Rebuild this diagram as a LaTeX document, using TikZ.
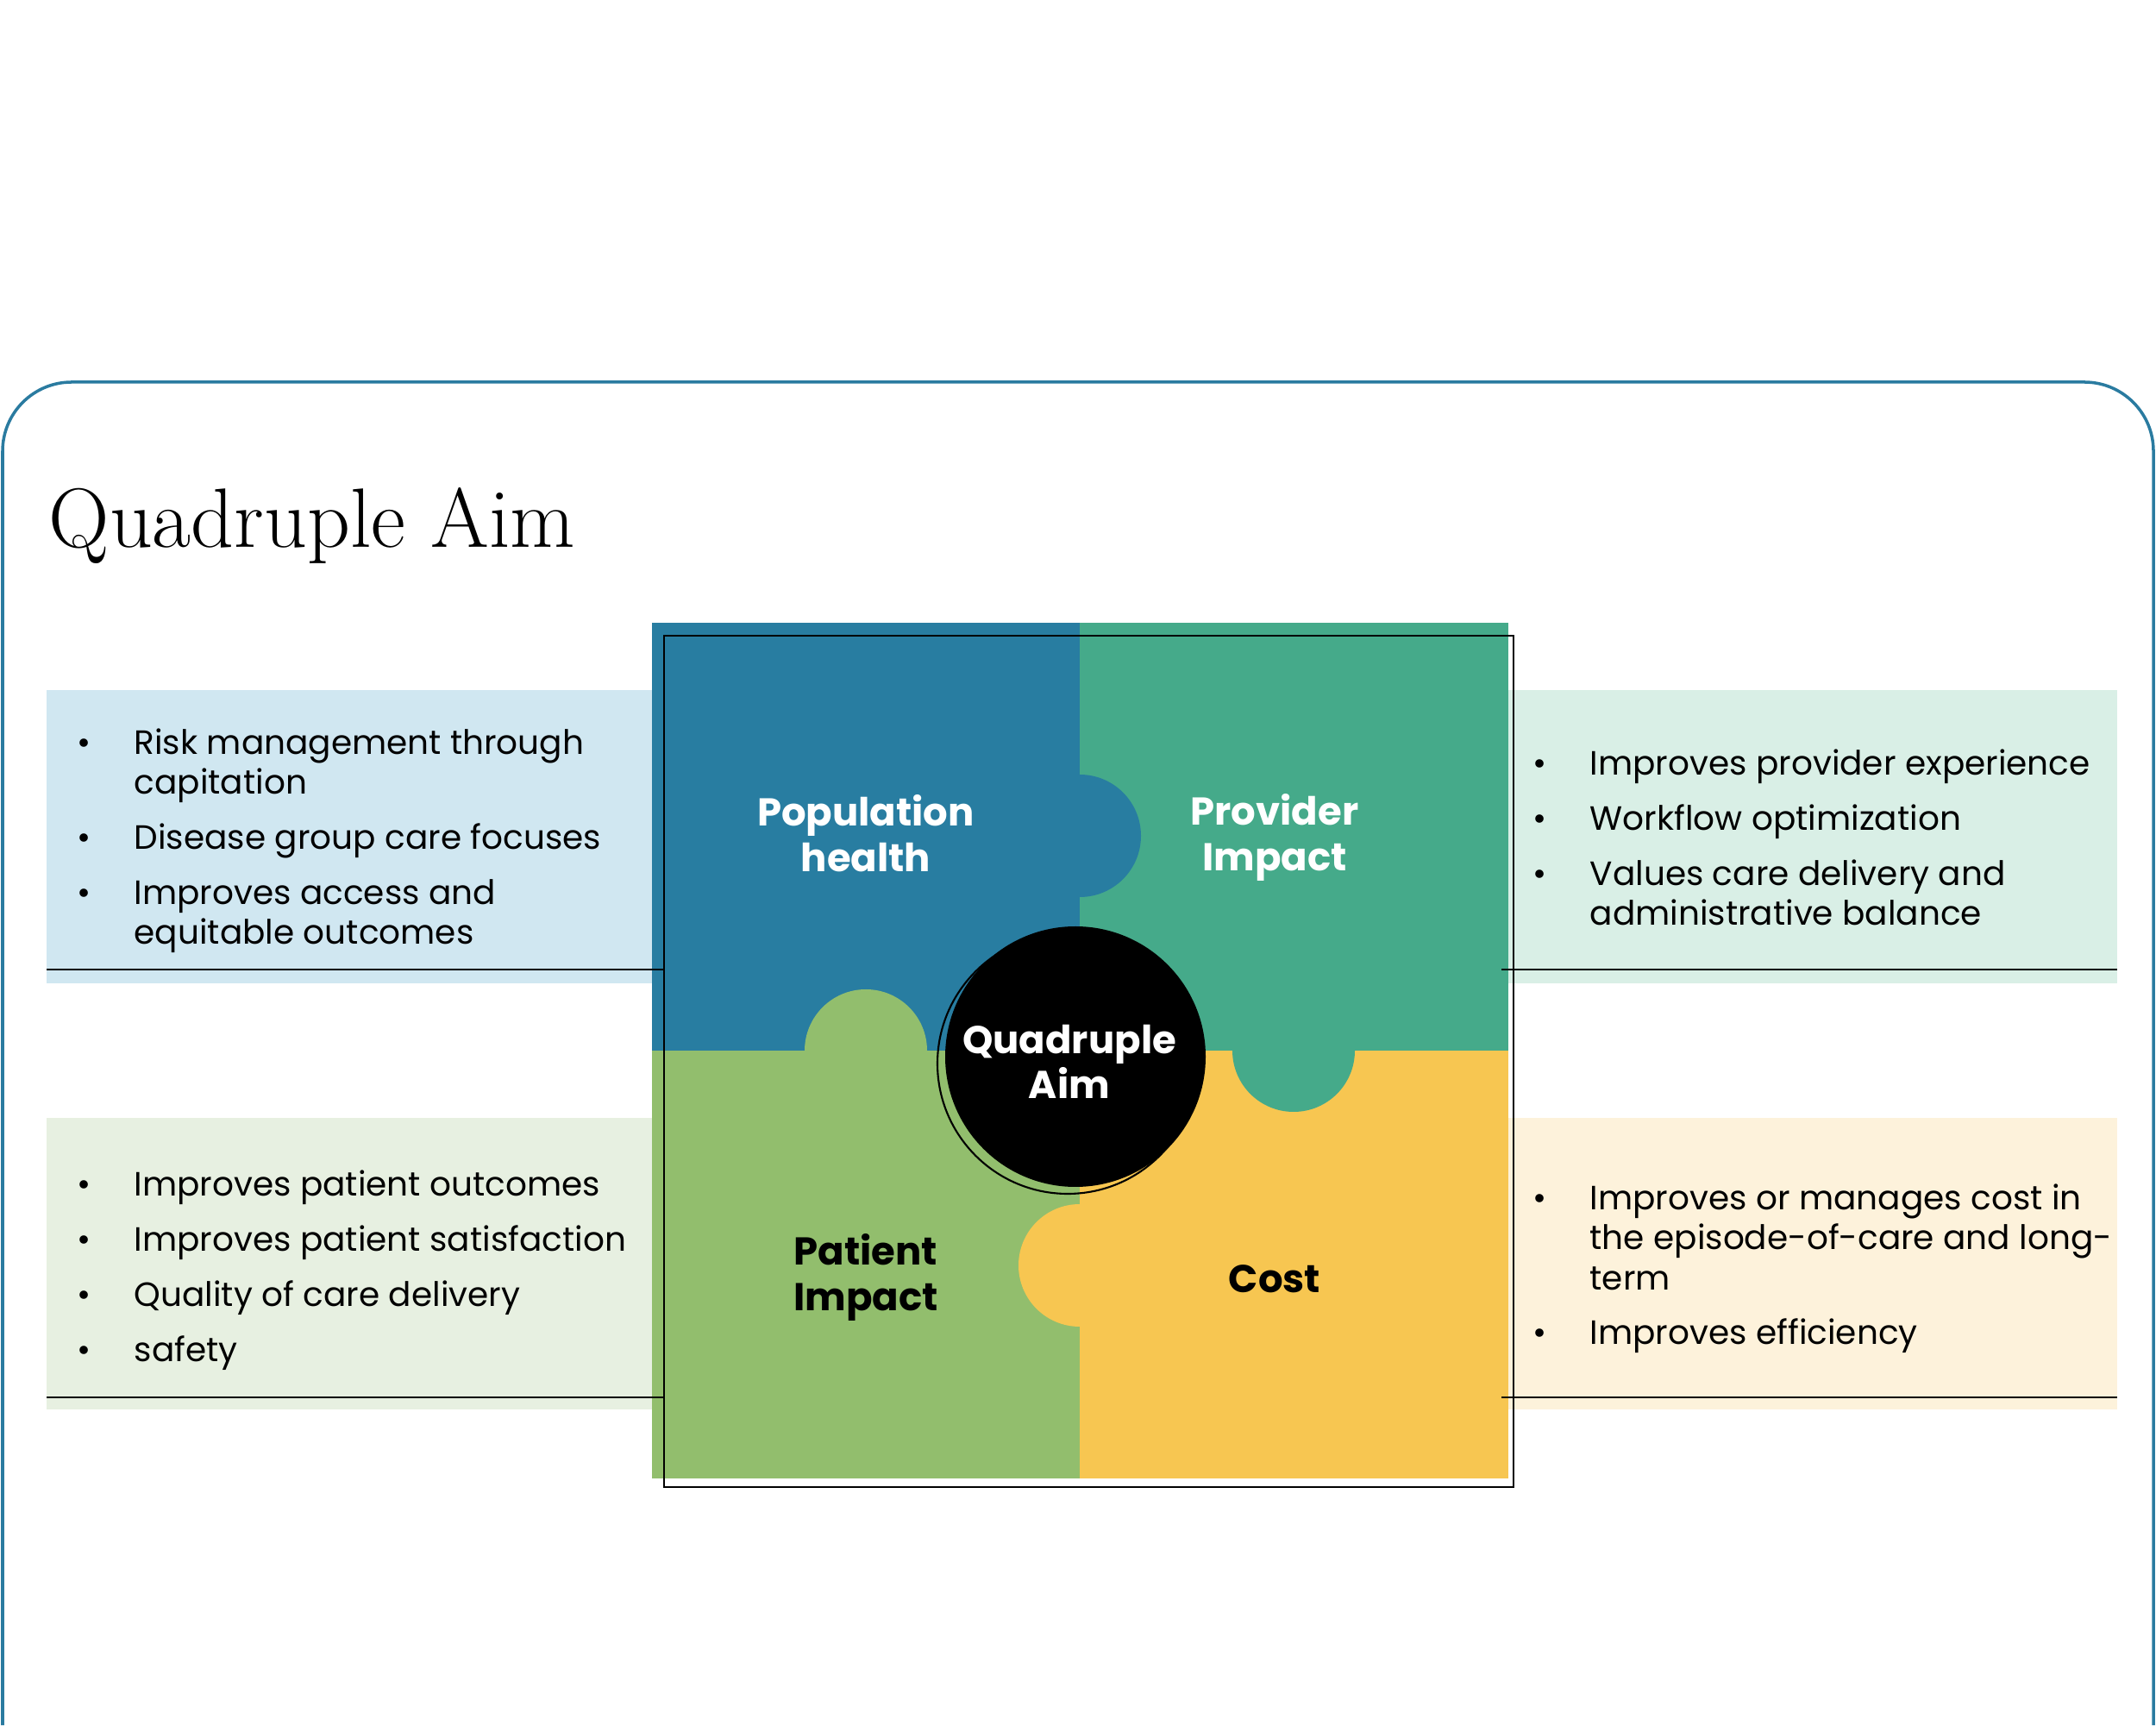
\documentclass[tikz,border=0pt]{standalone}
\usepackage{fontspec}
\newfontfamily\popfont{Poppins}
\usetikzlibrary{positioning}
\definecolor{framec}{HTML}{2A7BA0}
\definecolor{qblue}{HTML}{287DA1}
\definecolor{qteal}{HTML}{45AA8A}
\definecolor{qlime}{HTML}{92BE6D}
\definecolor{qyellow}{HTML}{F7C651}
\definecolor{pblue}{HTML}{D0E7F1}
\definecolor{pteal}{HTML}{D9EFE6}
\definecolor{plime}{HTML}{E7F0E1}
\definecolor{pyellow}{HTML}{FDF2DB}
\newcommand{\qbul}{\llap{\textbullet\hspace{0.5cm}}}

\begin{document}
\begin{tikzpicture}[lbl/.style={font=\popfont\bfseries\fontsize{12.8}{15}\selectfont, align=center, inner sep=0pt}, items/.style={anchor=north west, inner sep=0pt, align=left, font=\popfont\fontsize{11.1}{13.1}\selectfont}, rule/.style={line width=0.6pt}]
\useasboundingbox (0,0) rectangle (25,20);
\draw[framec, line width=1pt] (0.03,0) -- (0.03,14.77) arc[start angle=180, end angle=90, radius=0.8] -- (24.17,15.57) arc[start angle=90, end angle=0, radius=0.8] -- (24.97,0);
\node[anchor=base west, inner sep=0pt, font=\fontsize{27.8}{32}\selectfont] (title) at (0.56,13.65) {Quadruple Aim};
% side panels
\fill[pblue] (0.54,8.60) rectangle (7.56,12.00);
\fill[plime] (0.54,3.66) rectangle (7.56,7.04);
\fill[pteal] (17.49,8.60) rectangle (24.55,12.00);
\fill[pyellow] (17.49,3.66) rectangle (24.55,7.04);
% puzzle
\fill[qblue] (7.56,7.82) rectangle (12.52,12.78);
\fill[qteal] (12.52,7.82) rectangle (17.49,12.78);
\fill[qlime] (7.56,2.86) rectangle (12.52,7.82);
\fill[qyellow] (12.52,2.86) rectangle (17.49,7.82);
\fill[qblue] (12.52,10.31) circle (0.71);
\fill[qlime] (10.04,7.82) circle (0.71);
\fill[qteal] (15.00,7.82) circle (0.71);
\fill[qyellow] (12.52,5.33) circle (0.71);
\draw[rule] (0.54,8.76) -- (7.70,8.76);
\draw[rule] (0.54,3.80) -- (7.70,3.80);
\draw[rule] (17.41,8.76) -- (24.55,8.76);
\draw[rule] (17.41,3.80) -- (24.55,3.80);
\draw[rule] (7.70,2.76) rectangle (17.55,12.63);
\draw[rule] (12.38,7.67) circle (1.51);
\node[circle, fill=black, minimum size=3.02cm, inner sep=0pt] (hub) at (12.47,7.75) {};
\node[lbl, text=white] (hubtxt) at (12.40,7.69) {Quadruple\\Aim};
\node[lbl, text=white] (pop) at (10.04,10.34) {Population\\health};
\node[lbl, text=white] (prov) at (14.78,10.29) {Provider\\Impact};
\node[lbl] (pat) at (10.04,5.19) {Patient\\Impact};
\node[lbl] (cost) at (14.78,5.17) {Cost};
% bullet lists
\node[items] (poplist) at (1.55,11.58) {\strut\qbul Risk management through\\capitation\\[5.1pt]\qbul Disease group care focuses\\[5.1pt]\qbul Improves access and\\equitable outcomes};
\node[items] (provlist) at (18.43,11.34) {\strut\qbul Improves provider experience\\[5.1pt]\qbul Workflow optimization\\[5.1pt]\qbul Values care delivery and\\administrative balance};
\node[items] (patlist) at (1.55,6.46) {\strut\qbul Improves patient outcomes\\[5.1pt]\qbul Improves patient satisfaction\\[5.1pt]\qbul Quality of care delivery\\[5.1pt]\qbul safety};
\node[items] (costlist) at (18.43,6.30) {\strut\qbul Improves or manages cost in\\the episode-of-care and long-\\term\\[5.1pt]\qbul Improves efficiency};
\end{tikzpicture}
\end{document}
